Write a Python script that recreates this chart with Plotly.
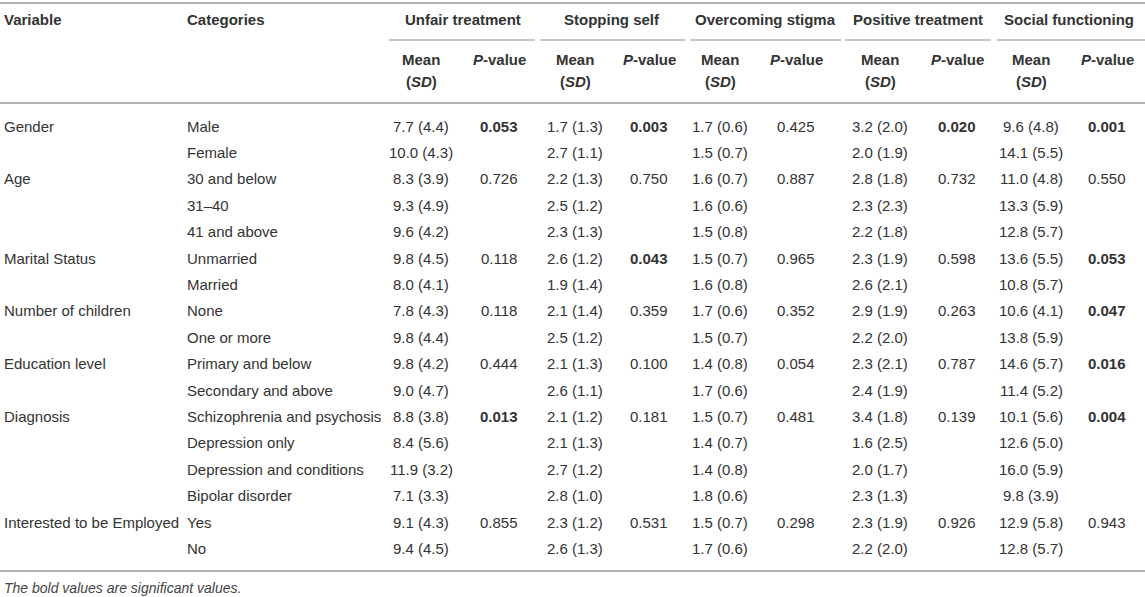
"""Table: stigma subscale scores by demographic group, drawn with annotations and shapes"""

import plotly.graph_objects as go

# --- data ---------------------------------------------------------------
variables = ["Gender", "Age", "Marital Status", "Number of children",
             "Education level", "Diagnosis", "Interested to be Employed"]
categories = [
    ["Male", "Female"],
    ["30 and below", "31–40", "41 and above"],
    ["Unmarried", "Married"],
    ["None", "One or more"],
    ["Primary and below", "Secondary and above"],
    ["Schizophrenia and psychosis", "Depression only",
     "Depression and conditions", "Bipolar disorder"],
    ["Yes", "No"],
]
scales = ["Unfair treatment", "Stopping self", "Overcoming stigma",
          "Positive treatment", "Social functioning"]

unfair_mean = [7.7, 10.0, 8.3, 9.3, 9.6, 9.8, 8.0, 7.8, 9.8, 9.8, 9.0, 8.8, 8.4, 11.9, 7.1, 9.1, 9.4]
unfair_sd = [4.4, 4.3, 3.9, 4.9, 4.2, 4.5, 4.1, 4.3, 4.4, 4.2, 4.7, 3.8, 5.6, 3.2, 3.3, 4.3, 4.5]
unfair_p = ["0.053", "0.726", "0.118", "0.118", "0.444", "0.013", "0.855"]
unfair_sig = [1, 0, 0, 0, 0, 1, 0]

stop_mean = [1.7, 2.7, 2.2, 2.5, 2.3, 2.6, 1.9, 2.1, 2.5, 2.1, 2.6, 2.1, 2.1, 2.7, 2.8, 2.3, 2.6]
stop_sd = [1.3, 1.1, 1.3, 1.2, 1.3, 1.2, 1.4, 1.4, 1.2, 1.3, 1.1, 1.2, 1.3, 1.2, 1.0, 1.2, 1.3]
stop_p = ["0.003", "0.750", "0.043", "0.359", "0.100", "0.181", "0.531"]
stop_sig = [1, 0, 1, 0, 0, 0, 0]

overcome_mean = [1.7, 1.5, 1.6, 1.6, 1.5, 1.5, 1.6, 1.7, 1.5, 1.4, 1.7, 1.5, 1.4, 1.4, 1.8, 1.5, 1.7]
overcome_sd = [0.6, 0.7, 0.7, 0.6, 0.8, 0.7, 0.8, 0.6, 0.7, 0.8, 0.6, 0.7, 0.7, 0.8, 0.6, 0.7, 0.6]
overcome_p = ["0.425", "0.887", "0.965", "0.352", "0.054", "0.481", "0.298"]
overcome_sig = [0, 0, 0, 0, 0, 0, 0]

positive_mean = [3.2, 2.0, 2.8, 2.3, 2.2, 2.3, 2.6, 2.9, 2.2, 2.3, 2.4, 3.4, 1.6, 2.0, 2.3, 2.3, 2.2]
positive_sd = [2.0, 1.9, 1.8, 2.3, 1.8, 1.9, 2.1, 1.9, 2.0, 2.1, 1.9, 1.8, 2.5, 1.7, 1.3, 1.9, 2.0]
positive_p = ["0.020", "0.732", "0.598", "0.263", "0.787", "0.139", "0.926"]
positive_sig = [1, 0, 0, 0, 0, 0, 0]

social_mean = [9.6, 14.1, 11.0, 13.3, 12.8, 13.6, 10.8, 10.6, 13.8, 14.6, 11.4, 10.1, 12.6, 16.0, 9.8, 12.9, 12.8]
social_sd = [4.8, 5.5, 4.8, 5.9, 5.7, 5.5, 5.7, 4.1, 5.9, 5.7, 5.2, 5.6, 5.0, 5.9, 3.9, 5.8, 5.7]
social_p = ["0.001", "0.550", "0.053", "0.047", "0.016", "0.004", "0.943"]
social_sig = [1, 0, 1, 1, 1, 1, 0]

footnote = "The bold values are significant values."

blocks = [
    (unfair_mean, unfair_sd, unfair_p, unfair_sig),
    (stop_mean, stop_sd, stop_p, stop_sig),
    (overcome_mean, overcome_sd, overcome_p, overcome_sig),
    (positive_mean, positive_sd, positive_p, positive_sig),
    (social_mean, social_sd, social_p, social_sig),
]

# --- layout constants (pixel-like axis units) ----------------------------
W, H = 1145, 597
FONT = "Liberation Sans, Arial, Helvetica, sans-serif"
TXT = "#333333"
RULE = "#b5b5b5"
FS = 15

x_var, x_cat = 2, 185
mean_x = [421, 575, 720, 880, 1031]
p_x = [499, 649, 796, 957, 1107]
group_x = [463, 612, 765, 918, 1069]
group_span = [(389, 535), (540, 685), (690, 841), (845, 991), (997, 1145)]

y_group, y_sub1, y_sub2 = 19, 59, 81
y_first, row_h = 126, 26.4
y_top, y_head, y_bottom, y_under = 3, 103, 571, 40
y_note = 588

fig = go.Figure()
fig.add_trace(go.Scatter(x=[0, W], y=[0, H], mode="markers",
                         marker=dict(opacity=0), hoverinfo="skip", showlegend=False))

ann = []


def txt(x, y, s, anchor="center", size=FS, color=TXT):
    ann.append(dict(x=x, y=y, xref="x", yref="y", text=s, showarrow=False,
                    xanchor=anchor, yanchor="middle",
                    font=dict(family=FONT, size=size, color=color)))


# header
txt(x_var, y_group, "<b>Variable</b>", "left")
txt(x_cat, y_group, "<b>Categories</b>", "left")
for k, name in enumerate(scales):
    txt(group_x[k], y_group, f"<b>{name}</b>")
    txt(mean_x[k], y_sub1, "<b>Mean</b>")
    txt(mean_x[k], y_sub2, "<b>(<i>SD</i>)</b>")
    txt(p_x[k], y_sub1, "<b><i>P</i>-value</b>")

# body
row = 0
for g, var in enumerate(variables):
    for c, cat in enumerate(categories[g]):
        y = y_first + row * row_h
        if c == 0:
            txt(x_var, y, var, "left")
        txt(x_cat, y, cat, "left")
        for k, (m, sd, p, sig) in enumerate(blocks):
            txt(mean_x[k], y, f"{m[row]:.1f} ({sd[row]:.1f})")
            if c == 0:
                txt(p_x[k], y, f"<b>{p[g]}</b>" if sig[g] else p[g])
        row += 1

txt(x_var, y_note, f"<i>{footnote}</i>", "left", size=14, color="#444444")

shapes = []
for yy in (y_top, y_head, y_bottom):
    shapes.append(dict(type="line", xref="x", yref="y", x0=0, x1=W, y0=yy, y1=yy,
                       line=dict(color=RULE, width=2)))
for x0, x1 in group_span:
    shapes.append(dict(type="line", xref="x", yref="y", x0=x0, x1=x1, y0=y_under, y1=y_under,
                       line=dict(color=RULE, width=1.5)))

fig.update_layout(
    width=W, height=H,
    margin=dict(l=0, r=0, t=0, b=0),
    paper_bgcolor="white", plot_bgcolor="white",
    xaxis=dict(range=[0, W], visible=False, fixedrange=True),
    yaxis=dict(range=[H, 0], visible=False, fixedrange=True),
    annotations=ann, shapes=shapes,
)

fig.write_html("out.html", config={"displayModeBar": False},
               post_script="document.body.style.margin='0';document.body.style.overflow='hidden';")
